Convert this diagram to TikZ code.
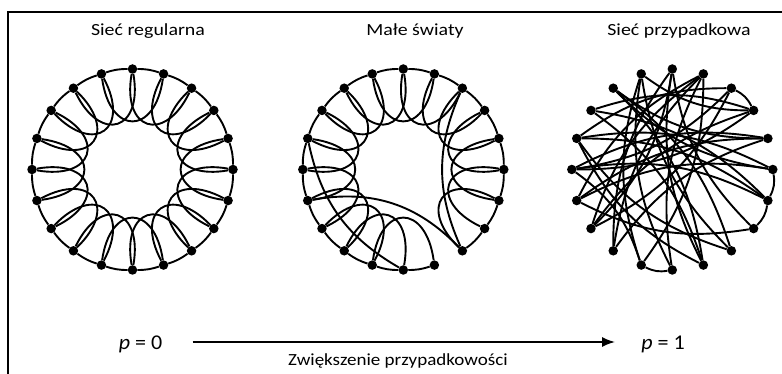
\documentclass[tikz,border=0pt]{standalone}
\usepackage{fontspec}
\setmainfont{Carlito}
\usetikzlibrary{calc,arrows.meta}
\begin{document}
\begin{tikzpicture}[x=1pt,y=1pt,
  dot/.style={circle,fill=black,inner sep=0pt,minimum size=9.5pt},
  edge/.style={line width=1.9pt},
  ttl/.style={font=\fontsize{17}{20}\selectfont, xscale=1.17},
  lbl/.style={font=\fontsize{21}{24}\selectfont, xscale=1.05},
  sub/.style={font=\fontsize{17}{20}\selectfont, xscale=1.12}]
\useasboundingbox (0,0) rectangle (782,374);
\fill[white] (0,0) rectangle (782,374);
\draw[line width=1.4pt] (8,-20) rectangle (800,362);
% centres
\coordinate (ca) at (132.5,204.5);
\coordinate (cb) at (403.3,204.5);
\coordinate (cc) at (672.3,204.5);
\foreach \k in {0,...,19}{
  \node[dot] (a\k) at ($(ca)+({90-18*\k}:100.5)$) {};
  \node[dot] (b\k) at ($(cb)+({90-18*\k}:100.5)$) {};
  \node[dot] (c\k) at ($(cc)+({90-18*\k}:100.5)$) {};
}
% regular ring
\foreach \k [evaluate=\k as \i using {int(mod(\k+1,20))}, evaluate=\k as \j using {int(mod(\k+2,20))}] in {0,...,19}{
  \draw[edge] (a\k) to[bend left=9] (a\i);
  \draw[edge] (a\k) .. controls ($(a\k)!0.62!-10:(ca)$) and ($(a\j)!0.62!10:(ca)$) .. (a\j);
}
% small world
\foreach \k [evaluate=\k as \i using {int(mod(\k+1,20))}] in {0,...,7,9,10,...,19}{
  \draw[edge] (b\k) to[bend left=9] (b\i);
}
\foreach \k [evaluate=\k as \j using {int(mod(\k+2,20))}] in {0,...,6,9,10,...,19}{
  \draw[edge] (b\k) .. controls ($(b\k)!0.62!-10:(cb)$) and ($(b\j)!0.62!10:(cb)$) .. (b\j);
}
\draw[edge] (b8) to[bend right=28] (b14);
\draw[edge] (b16) to[bend right=24] (b10);
\draw[edge] (b2) to[bend right=24] (b8);
% random
\foreach \u/\v in {2/3,5/6,6/7,10/11,18/9,18/8,17/9,17/3,17/6,16/5,16/6,16/2,15/6,15/11,15/4,14/4,14/5,14/1,13/3,13/1,12/1,12/0,11/19,10/1,10/19,9/0,8/19,8/16,7/0,4/18,3/19,2/13,2/15,12/4,9/16,7/14,5/18,0/13,1/11,3/15}{
  \draw[edge] (c\u) to[bend left=18] (c\v);
}
% texts
\node[ttl] (t1) at (148,343) {Sieć regularna};
\node[ttl] (t2) at (415,343) {Małe światy};
\node[ttl] (t3) at (679,343) {Sieć przypadkowa};
\node[lbl] (p0) at (140.5,30) {\itshape p\upshape\ = 0};
\node[lbl] (p1) at (663,30) {\itshape p\upshape\ = 1};
\coordinate (as) at (192.5,32);
\coordinate (ae) at (615,32);
\draw[line width=1.6pt,-{Latex[length=13pt,width=10pt]}] (as) -- (ae);
\node[sub] (lab) at (398,13) {Zwiększenie przypadkowości};
\end{tikzpicture}
\end{document}
